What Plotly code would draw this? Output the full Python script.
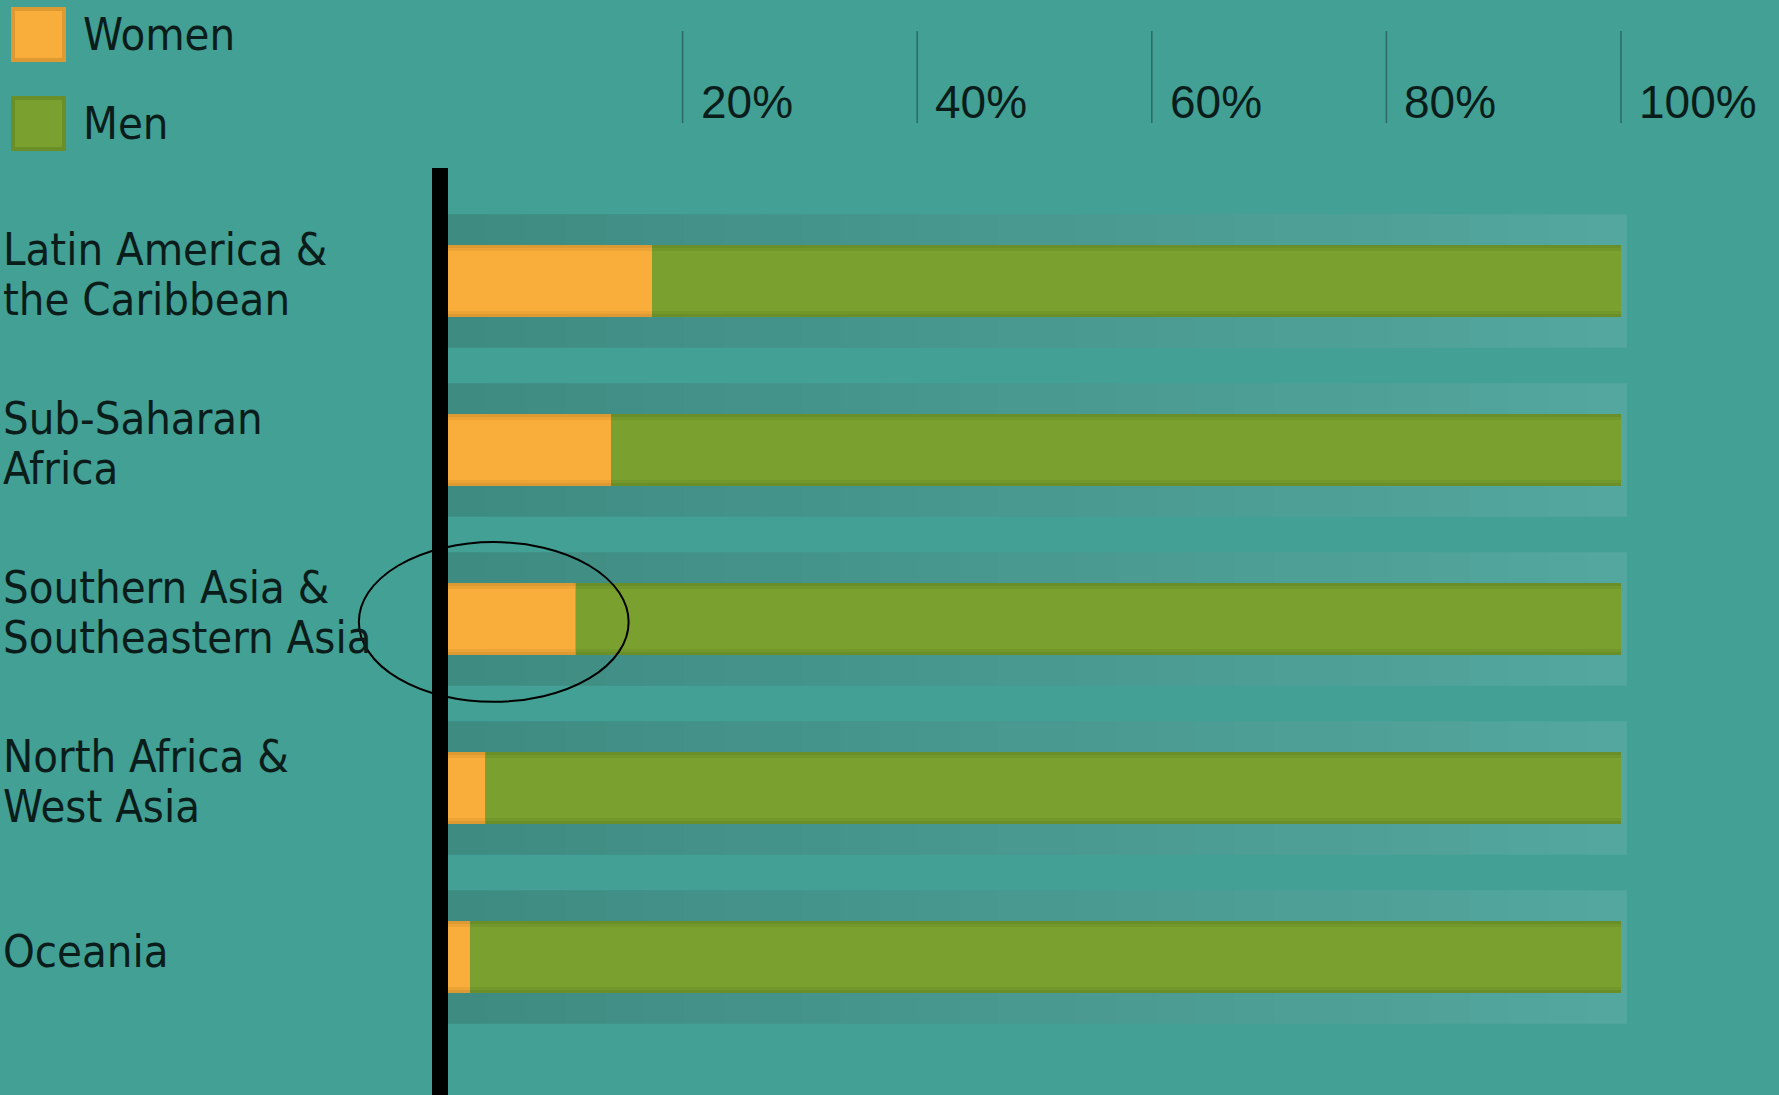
import plotly.graph_objects as go

# ---------------- data ----------------
categories = ["Latin America &<br>the Caribbean", "Sub-Saharan<br>Africa",
              "Southern Asia &<br>Southeastern Asia", "North Africa &<br>West Asia", "Oceania"]
women = [17.4, 13.9, 10.9, 3.2, 1.9]
men = [round(100 - w, 1) for w in women]
series_names = ["Women", "Men"]
tick_values = [20, 40, 60, 80, 100]
tick_labels = ["20%", "40%", "60%", "80%", "100%"]
highlight_category = 2

# ---------------- style ----------------
W, H = 1779, 1095
BG = "#43A094"
ORANGE, ORANGE_EDGE = "#F9AE3B", "#DE9A32"
GREEN, GREEN_EDGE = "#7AA030", "#6A8F29"
TEXT = "#0B1D1A"
LABEL_FONT = "DejaVu Sans Condensed, DejaVu Sans, sans-serif"
TICK_FONT = "Liberation Sans, Arial, sans-serif"
LABEL_SIZE = 45

PX_PER_PCT = 11.73
ZERO_PX = 448
ROW_PX = 169
FIRST_ROW_PX = 281
BAR_W = 0.426
BAND_H = 0.79

idx = list(range(len(categories)))

fig = go.Figure()
# layered bars: darker outer edge, then inner main colour (soft inner shading)
layers = [(0, "edge"), (2 * 3 / ROW_PX, "mid"), (2 * 6 / ROW_PX, "main")]

def mix(c1, c2, t):
    a = [int(c1[i:i + 2], 16) for i in (1, 3, 5)]
    b = [int(c2[i:i + 2], 16) for i in (1, 3, 5)]
    return "rgb(%d,%d,%d)" % tuple(round(x + (y - x) * t) for x, y in zip(a, b))

for vals, base, c_edge, c_main, name in [
    (women, [0] * len(women), ORANGE_EDGE, ORANGE, series_names[0]),
    (men, women, GREEN_EDGE, GREEN, series_names[1]),
]:
    for inset, kind in layers:
        col = {"edge": c_edge, "mid": mix(c_edge, c_main, 0.5), "main": c_main}[kind]
        fig.add_trace(go.Bar(y=idx, x=vals, base=base, orientation="h", width=BAR_W - inset,
                             marker=dict(color=col, line=dict(width=0)), name=name,
                             showlegend=False, hoverinfo="skip" if kind != "main" else None))

shapes = []
annotations = []

# gradient background bands
def lerp(c1, c2, t):
    return "rgb(%d,%d,%d)" % tuple(round(a + (b - a) * t) for a, b in zip(c1, c2))

left_c, right_c = (62, 139, 130), (84, 167, 158)
band_end = 100.5
steps = 30
for i in idx:
    for s in range(steps):
        x0 = band_end * s / steps
        x1 = band_end * (s + 1) / steps + 0.05
        shapes.append(dict(type="rect", xref="x", yref="y", x0=x0, x1=min(x1, band_end),
                           y0=i - BAND_H / 2, y1=i + BAND_H / 2, layer="below",
                           line=dict(width=0), fillcolor=lerp(left_c, right_c, (s + 0.5) / steps)))

# black vertical axis bar
shapes.append(dict(type="rect", xref="x", yref="paper", x0=-16 / PX_PER_PCT, x1=0,
                   y0=0, y1=1 - 168 / H, line=dict(width=0), fillcolor="#000000", layer="above"))

# ticks (lines + labels) at top
for v, lab in zip(tick_values, tick_labels):
    shapes.append(dict(type="line", xref="x", yref="paper", x0=v, x1=v,
                       y0=1 - 31 / H, y1=1 - 123 / H, line=dict(color="#2B6A62", width=1.5)))
    annotations.append(dict(x=v, xref="x", y=1 - 101.5 / H, yref="paper", text=lab,
                            xanchor="left", yanchor="middle", xshift=16, showarrow=False,
                            font=dict(family=TICK_FONT, size=46, color=TEXT)))

# category labels, left aligned
for i, cat in zip(idx, categories):
    lines = cat.split("<br>")
    offsets = [6] if len(lines) == 1 else [32, -18]
    for line, off in zip(lines, offsets):
        annotations.append(dict(x=1 / W, xref="paper", y=i, yref="y", text=line,
                                xanchor="left", yanchor="middle", yshift=off, showarrow=False,
                                font=dict(family=LABEL_FONT, size=LABEL_SIZE, color=TEXT)))

# custom legend
for k, (nm, c_main, c_edge) in enumerate(zip(series_names, [ORANGE, GREEN], [ORANGE_EDGE, GREEN_EDGE])):
    top = 9 + k * 89
    shapes.append(dict(type="rect", xref="paper", yref="paper", x0=13 / W, x1=64 / W,
                       y0=1 - (top + 51) / H, y1=1 - top / H, fillcolor=c_main,
                       line=dict(color=c_edge, width=4)))
    annotations.append(dict(x=81 / W, xref="paper", y=1 - (top + 25.5) / H, yref="paper",
                            text=nm, xanchor="left", yanchor="middle", showarrow=False,
                            font=dict(family=LABEL_FONT, size=LABEL_SIZE, color=TEXT)))

# highlight ellipse around one category
shapes.append(dict(type="circle", xref="x", yref="y", x0=-7.6, x1=15.4,
                   y0=highlight_category - 0.455, y1=highlight_category + 0.49,
                   line=dict(color="#000000", width=2), layer="above"))

fig.update_layout(
    width=W, height=H, margin=dict(l=0, r=0, t=0, b=0),
    paper_bgcolor=BG, plot_bgcolor=BG, barmode="overlay",
    shapes=shapes, annotations=annotations, showlegend=False,
    xaxis=dict(range=[-ZERO_PX / PX_PER_PCT, (W - ZERO_PX) / PX_PER_PCT], visible=False,
               fixedrange=True),
    yaxis=dict(range=[(H - FIRST_ROW_PX) / ROW_PX, -FIRST_ROW_PX / ROW_PX], visible=False,
               fixedrange=True),
)

fig.write_html("out.html", config={"displayModeBar": False},
               post_script="document.body.style.margin='0px';")
